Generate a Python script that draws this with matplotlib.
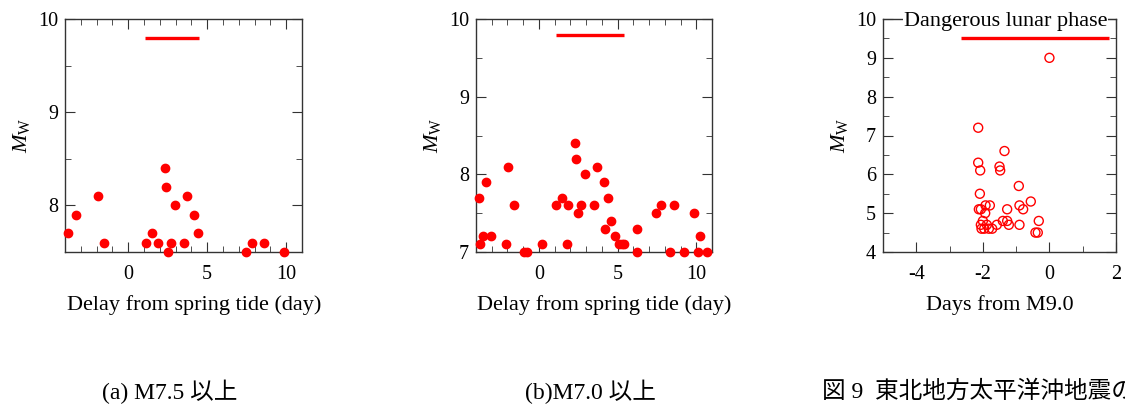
import matplotlib

matplotlib.use("Agg")
import matplotlib.pyplot as plt
from matplotlib.ticker import MultipleLocator

# (a) M7.5 and above: delay from spring tide (day) vs Mw
A_DELAY = [-3.78, -3.30, -1.92, -1.52, 1.10, 1.50, 1.90, 2.30, 2.39, 2.52,
           2.73, 2.96, 3.51, 3.70, 4.14, 4.42, 7.48, 7.82, 8.58, 9.89]
A_MW = [7.7, 7.9, 8.1, 7.6, 7.6, 7.7, 7.6, 8.4, 8.2, 7.5,
        7.6, 8.0, 7.6, 8.1, 7.9, 7.7, 7.5, 7.6, 7.6, 7.5]
A_PHASE = [1.06, 4.48]
A_PHASE_Y = 9.8

# (b) M7.0 and above
B_DELAY = [-3.80, -3.72, -3.55, -3.34, -3.02, -2.07, -1.99, -1.56, -0.97, -0.76,
           0.21, 1.06, 1.46, 1.80, 1.86, 2.28, 2.37, 2.47, 2.68, 2.92,
           3.49, 3.66, 4.14, 4.23, 4.38, 4.61, 4.86, 5.07, 5.29, 5.41,
           6.22, 6.26, 7.44, 7.78, 8.33, 8.56, 9.20, 9.87, 10.08, 10.21, 10.70]
B_MW = [7.7, 7.1, 7.2, 7.9, 7.2, 7.1, 8.1, 7.6, 7.0, 7.0,
        7.1, 7.6, 7.7, 7.1, 7.6, 8.4, 8.2, 7.5, 7.6, 8.0,
        7.6, 8.1, 7.9, 7.3, 7.7, 7.4, 7.2, 7.1, 7.1, 7.1,
        7.0, 7.3, 7.5, 7.6, 7.0, 7.6, 7.0, 7.5, 7.0, 7.2, 7.0]
B_PHASE = [1.06, 5.43]
B_PHASE_Y = 9.8

# (c) days from M9.0
C_DAYS = [0.0, -2.14, -2.14, -2.08, -1.50, -1.48, -1.35, -2.09, -0.92, -2.12,
          -2.06, -1.92, -1.79, -1.93, -1.27, -0.90, -0.79, -0.56, -2.00, -1.40,
          -1.27, -1.22, -0.90, -0.32, -0.42, -0.35, -2.06, -2.04, -1.96, -1.88,
          -1.82, -1.72, -1.58]
C_MW = [9.0, 7.2, 6.3, 6.1, 6.2, 6.1, 6.6, 5.5, 5.7, 5.1,
        5.1, 5.2, 5.2, 5.0, 5.1, 5.2, 5.1, 5.3, 4.8, 4.8,
        4.8, 4.7, 4.7, 4.8, 4.5, 4.5, 4.7, 4.6, 4.6, 4.7,
        4.6, 4.6, 4.7]
C_PHASE = [-2.67, 1.78]
C_PHASE_Y = 9.5

CAPTIONS = ["(a) M7.5 以上", "(b)M7.0 以上", "図 9  東北地方太平洋沖地震の"]

plt.rcParams.update(
    {
        "font.family": ["Liberation Serif", "Noto Sans CJK JP"],
        "mathtext.fontset": "custom",
        "mathtext.rm": "Liberation Serif",
        "mathtext.it": "Liberation Serif:italic",
        "font.size": 14.5,
        "axes.labelsize": 16,
        "axes.linewidth": 1.0,
        "axes.edgecolor": "#333333",
        "xtick.direction": "in",
        "ytick.direction": "in",
        "xtick.top": True,
        "ytick.right": True,
        "xtick.major.size": 7,
        "ytick.major.size": 7,
        "xtick.minor.size": 4,
        "ytick.minor.size": 4,
        "xtick.major.pad": 9.5,
        "ytick.major.pad": 5,
        "axes.labelpad": 8,
    }
)

W, H = 1125, 407
fig = plt.figure(figsize=(W / 100, H / 100), dpi=100)


def _add_axes(left, right, top=19, bottom=252):
    return fig.add_axes([left / W, 1 - bottom / H, (right - left) / W, (bottom - top) / H])


def _style(ax, xlim, ylim, xmaj, xmin, ymaj, ymin):
    ax.set_xlim(*xlim)
    ax.set_ylim(*ylim)
    ax.xaxis.set_major_locator(MultipleLocator(xmaj))
    ax.xaxis.set_minor_locator(MultipleLocator(xmin))
    ax.yaxis.set_major_locator(MultipleLocator(ymaj))
    ax.yaxis.set_minor_locator(MultipleLocator(ymin))
    ax.tick_params(which="both", top=True, right=True, color="#333333")
    ax.xaxis.set_major_formatter(plt.FuncFormatter(lambda v, p: f"{v:.0f}"))
    ax.set_ylabel(r"$M_{\mathrm{W}}$", labelpad=4)


red = "#ff0000"

ax_a = _add_axes(65, 302)
ax_a.scatter(A_DELAY, A_MW, s=36, color=red, zorder=3, clip_on=False)
ax_a.plot(A_PHASE, [A_PHASE_Y] * 2, color=red, lw=2.4, solid_capstyle="butt")
_style(ax_a, (-4, 11), (7.5, 10), 5, 1, 1, 0.5)
ax_a.set_xlabel("Delay from spring tide (day)")
ax_a.xaxis.set_label_coords(0.544, -0.185)

ax_b = _add_axes(476, 712)
ax_b.scatter(B_DELAY, B_MW, s=36, color=red, zorder=3, clip_on=False)
ax_b.plot(B_PHASE, [B_PHASE_Y] * 2, color=red, lw=2.4, solid_capstyle="butt")
_style(ax_b, (-4, 11), (7, 10), 5, 1, 1, 0.5)
ax_b.set_xlabel("Delay from spring tide (day)")
ax_b.xaxis.set_label_coords(0.542, -0.185)

ax_c = _add_axes(883, 1116)
ax_c.scatter(C_DAYS, C_MW, s=42, facecolors="none", edgecolors=red, linewidths=1.0, zorder=3)
ax_c.plot(C_PHASE, [C_PHASE_Y] * 2, color=red, lw=2.4, solid_capstyle="butt")
_style(ax_c, (-5, 2), (4, 10), 2, 1, 1, 0.5)
ax_c.set_xlabel("Days from M9.0")
ax_c.xaxis.set_label_coords(0.5, -0.185)
ax_c.text(0.525, 0.99, "Dangerous lunar phase", transform=ax_c.transAxes,
          ha="center", va="center", fontsize=16,
          bbox=dict(facecolor="white", edgecolor="none", pad=0.3))

cap_y = 1 - 392 / H
fig.text(170 / W, cap_y, CAPTIONS[0], ha="center", va="center", fontsize=17)
fig.text(590 / W, cap_y, CAPTIONS[1], ha="center", va="center", fontsize=17)
fig.text(822 / W, cap_y, CAPTIONS[2], ha="left", va="center", fontsize=17)

fig.savefig("out.png", dpi=100)
